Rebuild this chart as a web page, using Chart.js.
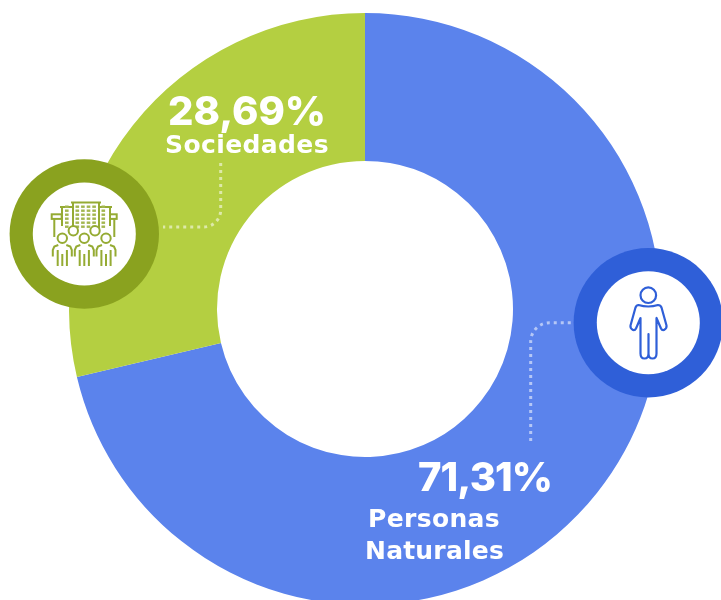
<!DOCTYPE html>
<html>
<head>
<meta charset="utf-8">
<script src="https://cdn.jsdelivr.net/npm/chart.js@4"></script>
<style>
  html, body { margin: 0; padding: 0; background: #fff; overflow: hidden; width: 721px; height: 600px; }
  canvas { display: block; }
</style>
</head>
<body>
<canvas id="myChart" width="721" height="618"></canvas>
<script>
const labels = ['Personas Naturales', 'Sociedades']
const values = [71.31, 28.69]
const colors = ['#5b83ec', '#b4cf41']

const BLUE = '#2f5fd8'
const GREEN = '#8aa21f'
const DOTS = 'rgba(255,255,255,0.55)'

function percent(v) {
    return v.toFixed(2).replace('.', ',') + '%'
}

function dotted(ctx, pts, radius) {
    ctx.save()
    ctx.strokeStyle = DOTS
    ctx.lineWidth = 3
    ctx.setLineDash([3, 4])
    ctx.beginPath()
    ctx.moveTo(pts[0][0], pts[0][1])
    ctx.arcTo(pts[1][0], pts[1][1], pts[2][0], pts[2][1], radius)
    ctx.lineTo(pts[2][0], pts[2][1])
    ctx.stroke()
    ctx.restore()
}

function badge(ctx, x, y, color) {
    ctx.fillStyle = color
    ctx.beginPath()
    ctx.arc(x, y, 74.7, 0, Math.PI * 2)
    ctx.fill()
    ctx.fillStyle = '#fff'
    ctx.beginPath()
    ctx.arc(x, y, 51.5, 0, Math.PI * 2)
    ctx.fill()
}

function person(ctx) {
    ctx.save()
    ctx.strokeStyle = BLUE
    ctx.lineWidth = 2.2
    ctx.lineJoin = 'round'
    ctx.beginPath()
    ctx.arc(648.3, 295.2, 7.8, 0, Math.PI * 2)
    ctx.stroke()
    ctx.beginPath()
    ctx.moveTo(638.5, 305)
    ctx.quadraticCurveTo(648.3, 308, 658, 305)
    ctx.quadraticCurveTo(660.5, 305, 661.5, 307.5)
    ctx.lineTo(666.5, 325.5)
    ctx.quadraticCurveTo(667, 328.5, 664, 330)
    ctx.quadraticCurveTo(662, 330.5, 661, 328.5)
    ctx.lineTo(656.5, 318)
    ctx.lineTo(656.5, 353.5)
    ctx.quadraticCurveTo(656.5, 358.5, 652.5, 358.5)
    ctx.quadraticCurveTo(648.5, 358.5, 648.5, 353.5)
    ctx.lineTo(648.5, 334)
    ctx.lineTo(648.5, 353.5)
    ctx.quadraticCurveTo(648.5, 358.5, 644.5, 358.5)
    ctx.quadraticCurveTo(640.5, 358.5, 640.5, 353.5)
    ctx.lineTo(640.5, 318)
    ctx.lineTo(636, 328.5)
    ctx.quadraticCurveTo(635, 330.5, 633, 330)
    ctx.quadraticCurveTo(630, 328.5, 630.5, 325.5)
    ctx.lineTo(635.5, 307.5)
    ctx.quadraticCurveTo(636.5, 305, 638.5, 305)
    ctx.closePath()
    ctx.stroke()
    ctx.restore()
}

function crowd(ctx) {
    ctx.save()
    ctx.strokeStyle = '#95ab33'
    ctx.lineWidth = 2
    // towers
    ctx.beginPath()
    ctx.moveTo(71, 202.5); ctx.lineTo(101, 202.5)
    ctx.moveTo(73, 202.5); ctx.lineTo(73, 228)
    ctx.moveTo(99, 202.5); ctx.lineTo(99, 228)
    ctx.moveTo(60, 207); ctx.lineTo(73, 207)
    ctx.moveTo(99, 207); ctx.lineTo(112, 207)
    ctx.moveTo(62, 207); ctx.lineTo(62, 226)
    ctx.moveTo(110, 207); ctx.lineTo(110, 226)
    ctx.stroke()
    ctx.strokeRect(51.7, 214.3, 10, 4.6)
    ctx.strokeRect(110, 214.3, 6.7, 4.6)
    ctx.beginPath()
    ctx.moveTo(54.3, 219); ctx.lineTo(54.3, 237)
    ctx.moveTo(114.3, 219); ctx.lineTo(114.3, 237)
    ctx.stroke()
    // windows
    ctx.fillStyle = '#a3b64f'
    ;[[65, 2], [75.5, 4], [101.5, 2]].forEach(function (w) {
        for (let i = 0; i < w[1]; i++) {
            for (let r = 0; r < 6; r++) {
                if (w[1] === 2 && i === 1) continue
                ctx.fillRect(w[0] + i * 5.6, 205.5 + r * 4, 3.6, 2.4)
            }
        }
    })
    ;[[73.3, 230.7], [95, 230.7], [62.3, 238.3], [84.3, 238.3], [106, 238.3]].forEach(function (h) {
        ctx.fillStyle = '#fff'
        ctx.beginPath()
        ctx.arc(h[0], h[1], 4.7, 0, Math.PI * 2)
        ctx.fill()
        ctx.stroke()
    })
    ;[62.3, 84.3, 106].forEach(function (x) {
        ctx.beginPath()
        ctx.moveTo(x - 4, 245)
        ctx.lineTo(x - 8, 246.5)
        ctx.lineTo(x - 9.5, 250)
        ctx.lineTo(x - 9.5, 256.5)
        ctx.moveTo(x + 9.5, 256.5)
        ctx.lineTo(x + 9.5, 250)
        ctx.lineTo(x + 8, 246.5)
        ctx.lineTo(x + 4, 245)
        ctx.moveTo(x - 4.6, 250); ctx.lineTo(x - 4.6, 266)
        ctx.moveTo(x, 254); ctx.lineTo(x, 266)
        ctx.moveTo(x + 4.6, 250); ctx.lineTo(x + 4.6, 266)
        ctx.stroke()
    })
    ctx.restore()
}

function label(ctx, text, x, y, font, width) {
    ctx.font = font
    ctx.letterSpacing = '0px'
    const natural = ctx.measureText(text).width
    ctx.letterSpacing = ((width - natural) / text.length) + 'px'
    ctx.fillText(text, x, y)
    ctx.letterSpacing = '0px'
}

const overlay = {
    id: 'overlay',
    afterDraw(chart) {
        const ctx = chart.ctx
        ctx.save()
        dotted(ctx, [[220.7, 163], [220.7, 227], [163, 227]], 17)
        dotted(ctx, [[530.7, 441], [530.7, 322.7], [573, 322.7]], 19)
        badge(ctx, 84.3, 234, GREEN)
        badge(ctx, 648.3, 322.7, BLUE)
        person(ctx)
        crowd(ctx)

        const numFont = '800 40px Inter'
        const nameFont = '700 25px "DejaVu Sans"'
        const words = labels[0].split(' ')
        ctx.fillStyle = '#fff'
        ctx.textAlign = 'left'
        ctx.textBaseline = 'alphabetic'
        label(ctx, percent(values[1]), 168, 125, numFont, 158)
        label(ctx, labels[1], 165, 153, nameFont, 164)
        label(ctx, percent(values[0]), 418, 491, numFont, 134)
        label(ctx, words[0], 368, 527, nameFont, 132)
        label(ctx, words[1], 365, 559, nameFont, 139)
        ctx.restore()
    }
}

const ctx = document.getElementById('myChart').getContext('2d')

new Chart(ctx, {
    type: 'doughnut',
    data: {
        labels,
        datasets: [{
            data: values,
            backgroundColor: colors,
            borderWidth: 0
        }]
    },
    options: {
        responsive: false,
        animation: false,
        cutout: '50%',
        layout: { padding: { left: 9, top: 13, bottom: 13 } },
        plugins: {
            legend: { display: false },
            tooltip: { enabled: false }
        }
    },
    plugins: [overlay]
})
</script>
</body>
</html>
